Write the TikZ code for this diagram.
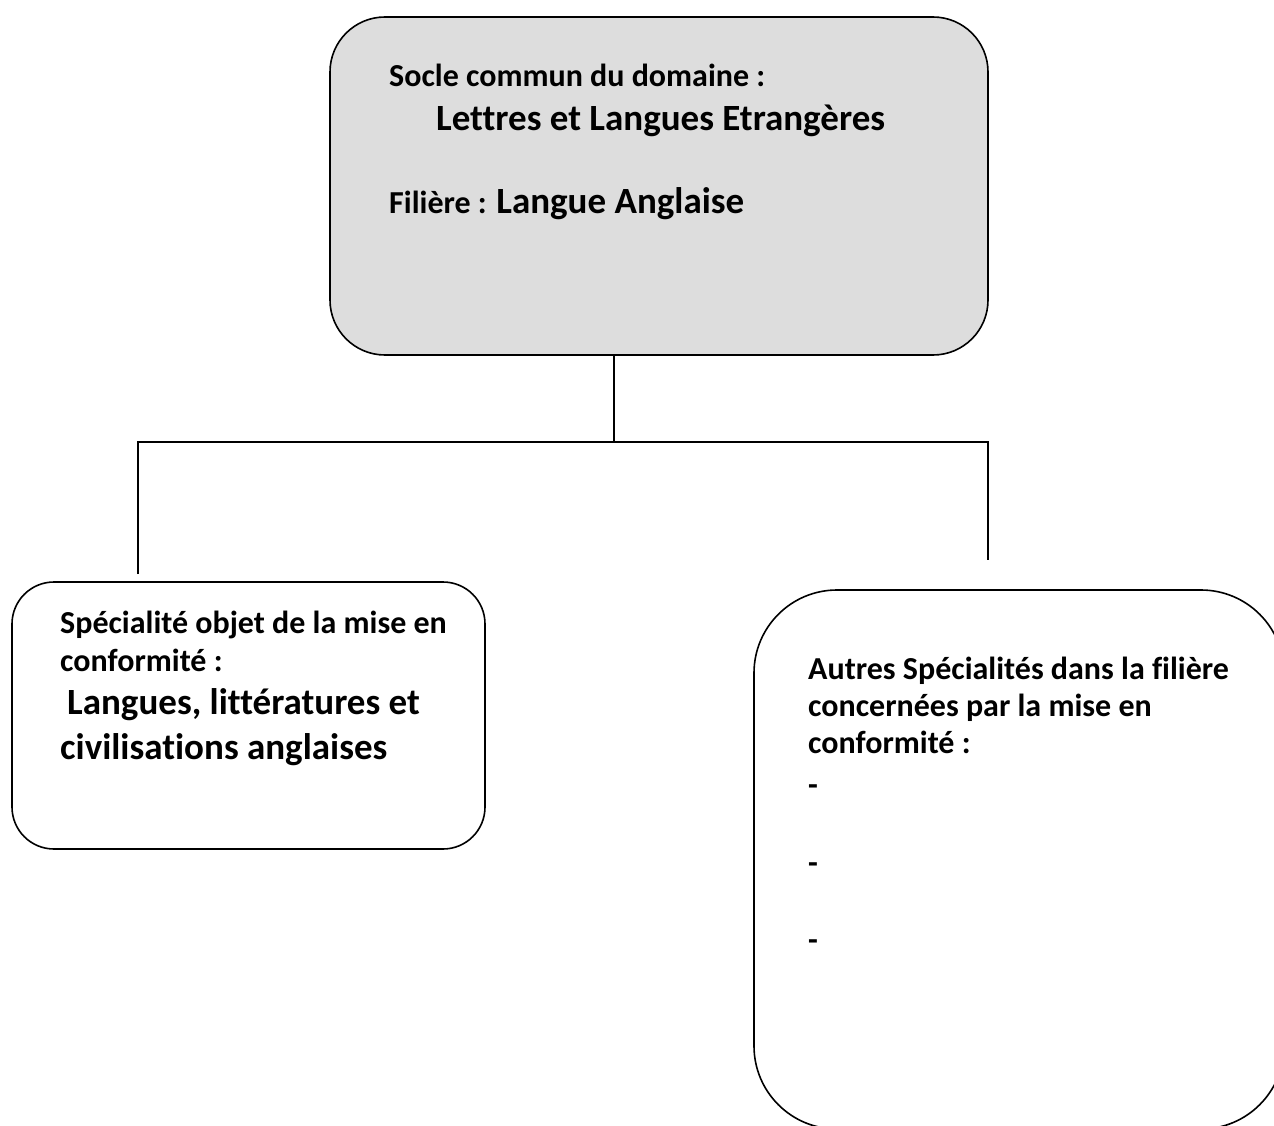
\documentclass[tikz,border=0pt]{standalone}
\usepackage{fontspec}
\setmainfont{Carlito}[Ligatures=NoCommon]
\definecolor{boxgray}{RGB}{221,221,221}
\begin{document}
\begin{tikzpicture}[x=1pt,y=-1pt,
  box/.style={draw=black, line width=1.6pt, inner sep=0pt},
  link/.style={draw=black, line width=1.6pt},
  small/.style={font=\fontsize{32}{38}\selectfont\bfseries, anchor=base west, inner sep=0pt},
  big/.style={font=\fontsize{37}{44}\selectfont\bfseries, anchor=base west, inner sep=0pt}]
\useasboundingbox (0,0) rectangle (1274,1126);
\clip (0,0) rectangle (1274,1126);
% boxes
\node[box, fill=boxgray, rounded corners=55pt, minimum width=658pt, minimum height=338pt] (top) at (659,186) {};
\node[box, fill=white, rounded corners=42pt, minimum width=473pt, minimum height=267pt] (left) at (248.5,715.5) {};
\node[box, fill=white, rounded corners=83pt, minimum width=530pt, minimum height=539pt] (right) at (1019,859.5) {};
% connectors
\coordinate (j) at (614,442);
\coordinate (jl) at (138,442);
\coordinate (jr) at (988,442);
\coordinate (el) at (138,574);
\coordinate (er) at (988,560);
\draw[link] (top.south -| j) -- (j);
\draw[link] (el) -- (jl) -- (jr) -- (er);
% top texts
\node[small] (t1) at (389,87) {Socle commun du domaine :};
\node[big] (t2) at (436,131) {Lettres et Langues Etrangères};
\node[small] (t3) at (389,214) {Filière : {\fontsize{37}{44}\selectfont Langue Anglaise}};
% left texts
\node[small] (l1) at (60,633) {Spécialité objet de la mise en};
\node[small] (l2) at (60,671) {conformité :};
\node[big] (l3) at (67,714) {Langues, littératures et};
\node[big] (l4) at (60,759) {civilisations anglaises};
% right texts
\node[small] (r1) at (808,679) {Autres Spécialités dans la filière};
\node[small] (r2) at (808,716) {concernées par la mise en};
\node[small] (r3) at (808,753) {conformité :};
\node[small] (r4) at (808,795) {-};
\node[small] (r5) at (808,873) {-};
\node[small] (r6) at (808,950) {-};
\end{tikzpicture}
\end{document}
